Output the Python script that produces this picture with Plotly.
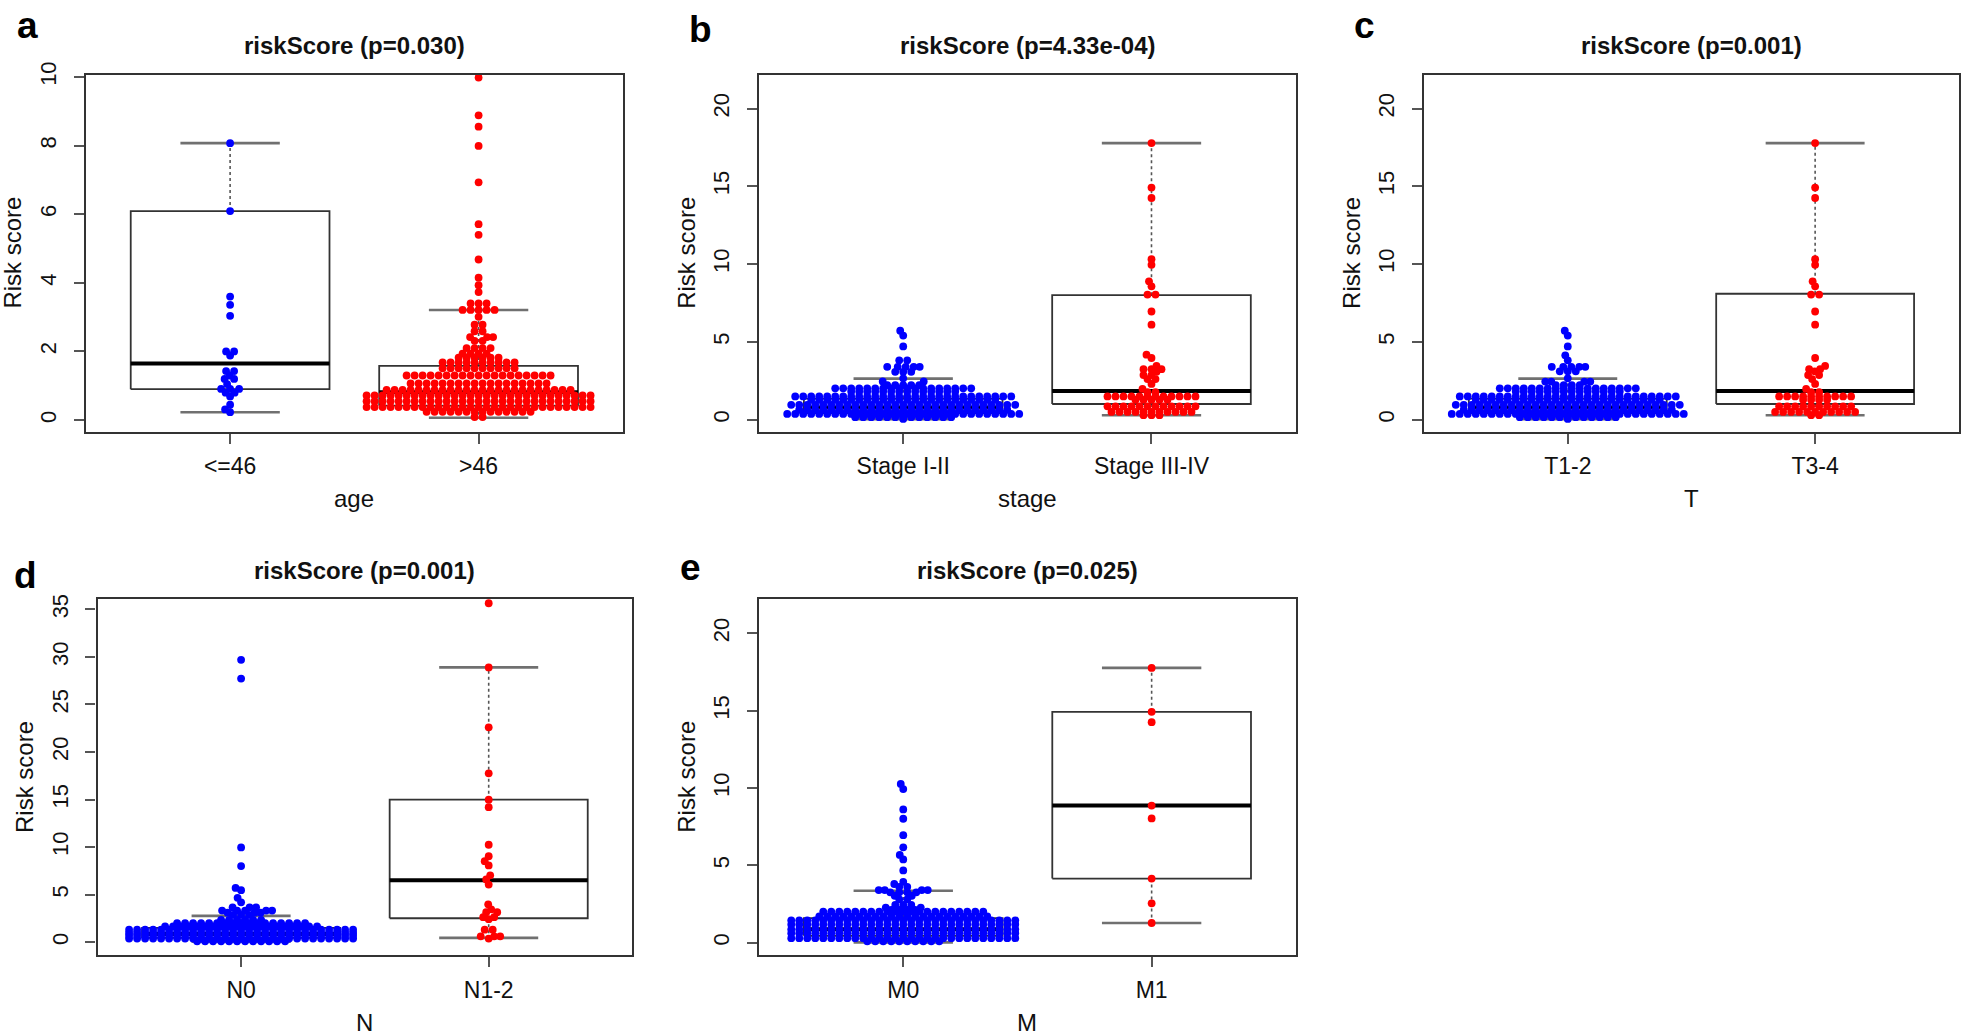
import plotly.graph_objects as go

W, H = 1962, 1035
FONT = "Liberation Sans, Arial, Helvetica, sans-serif"

# ---------------- panel a : age ----------------
a_title = "riskScore (p=0.030)"
a_xlabel = "age"
a_categories = ["<=46", ">46"]
a_yticks = [0, 2, 4, 6, 8, 10]
a_g1_values = [8.07, 6.09, 3.60, 3.36, 3.04, 2.00, 1.88, 1.43, 1.30, 1.20, 1.05, 0.91, 0.80, 0.69, 0.45, 0.31, 0.23]
a_g1_counts = [1, 1, 1, 1, 1, 2, 1, 2, 1, 2, 1, 3, 2, 1, 1, 1, 1]
a_g2_values = [9.98, 8.88, 8.55, 7.99, 6.93, 5.71, 5.40, 4.68, 4.15, 3.93, 3.73, 3.40, 3.21, 3.01, 2.78,
               2.59, 2.42, 2.31, 2.10, 1.94, 1.82, 1.68, 1.51, 1.30, 1.07, 0.88, 0.72, 0.55, 0.38, 0.24, 0.09]
a_g2_counts = [1, 1, 1, 1, 1, 1, 1, 1, 1, 1, 1, 3, 5, 1, 2,
               2, 3, 2, 4, 4, 6, 10, 10, 19, 18, 24, 29, 29, 29, 14, 2]
a_q1 = [0.90, 0.42]
a_median = [1.65, 0.81]
a_q3 = [6.09, 1.58]
a_lower = [0.23, 0.07]
a_upper = [8.07, 3.21]

# ---------------- panel b : stage ----------------
b_title = "riskScore (p=4.33e-04)"
b_xlabel = "stage"
b_categories = ["Stage I-II", "Stage III-IV"]
b_yticks = [0, 5, 10, 15, 20]
b_g1_values = [5.71, 5.40, 4.70, 3.81, 3.39, 3.07, 2.65, 2.45, 2.22, 2.01, 1.80, 1.49, 1.27, 0.95, 0.63, 0.36, 0.15, 0.04]
b_g1_counts = [1, 1, 1, 2, 5, 3, 1, 2, 5, 18, 14, 28, 24, 29, 27, 30, 13, 1]
b_g2_values = [17.78, 14.92, 14.25, 10.31, 9.95, 8.89, 8.57, 8.04, 6.95, 6.10, 4.17, 3.96, 3.45, 3.24, 3.07,
               2.86, 2.60, 2.29, 1.97, 1.76, 1.49, 1.27, 0.85, 0.49, 0.28]
b_g2_counts = [1, 1, 1, 1, 1, 1, 1, 2, 1, 1, 1, 1, 1, 3, 1,
               2, 2, 1, 1, 2, 12, 5, 12, 11, 3]
b_q1 = [0.42, 1.00]
b_median = [0.78, 1.84]
b_q3 = [1.35, 8.00]
b_lower = [0.03, 0.28]
b_upper = [2.63, 17.78]

# ---------------- panel c : T ----------------
c_title = "riskScore (p=0.001)"
c_xlabel = "T"
c_categories = ["T1-2", "T3-4"]
c_yticks = [0, 5, 10, 15, 20]
c_g1_values = [5.71, 5.40, 4.70, 4.13, 3.81, 3.39, 3.10, 2.65, 2.44, 2.22, 2.01, 1.80, 1.49, 1.27, 0.95, 0.63, 0.36, 0.15, 0.04]
c_g1_counts = [1, 1, 1, 1, 1, 5, 3, 1, 4, 4, 18, 14, 28, 24, 29, 27, 30, 13, 1]
c_g2_values = [17.78, 14.92, 14.25, 10.31, 9.95, 8.89, 8.57, 8.04, 6.95, 6.10, 3.96, 3.45, 3.24, 3.10,
               2.86, 2.60, 2.29, 1.97, 1.76, 1.49, 1.27, 0.85, 0.49, 0.28]
c_g2_counts = [1, 1, 1, 1, 1, 1, 1, 2, 1, 1, 1, 1, 2, 1,
               2, 1, 1, 1, 2, 10, 4, 10, 11, 2]
c_q1 = [0.42, 1.00]
c_median = [0.78, 1.84]
c_q3 = [1.35, 8.09]
c_lower = [0.03, 0.28]
c_upper = [2.63, 17.78]

# ---------------- panel d : N ----------------
d_title = "riskScore (p=0.001)"
d_xlabel = "N"
d_categories = ["N0", "N1-2"]
d_yticks = [0, 5, 10, 15, 20, 25, 30, 35]
d_g1_values = [29.70, 27.73, 9.97, 8.00, 5.71, 5.47, 4.67, 4.19, 3.67, 3.32, 3.10, 2.87, 2.35,
               2.01, 1.66, 1.32, 0.97, 0.69, 0.38, 0.10]
d_g1_counts = [1, 1, 1, 1, 1, 1, 1, 1, 3, 5, 3, 3, 6,
               17, 20, 29, 29, 29, 29, 12]
d_g2_values = [35.65, 28.90, 22.60, 17.76, 14.99, 14.20, 10.25, 9.04, 8.52, 8.07, 7.03, 6.60, 6.06,
               3.98, 3.46, 3.15, 2.63, 2.42, 1.32, 0.62, 0.38]
d_g2_counts = [1, 1, 1, 1, 1, 1, 1, 1, 1, 1, 1, 1, 1,
               1, 1, 2, 2, 1, 2, 3, 1]
d_q1 = [0.45, 2.52]
d_median = [0.85, 6.51]
d_q3 = [1.50, 14.99]
d_lower = [0.05, 0.45]
d_upper = [2.77, 28.90]

# ---------------- panel e : M ----------------
e_title = "riskScore (p=0.025)"
e_xlabel = "M"
e_categories = ["M0", "M1"]
e_yticks = [0, 5, 10, 15, 20]
e_g1_values = [10.27, 9.94, 8.62, 8.02, 6.96, 6.17, 5.68, 5.39, 4.68, 3.94, 3.80, 3.62, 3.41, 3.26,
               3.04, 2.81, 2.45, 2.28, 2.13, 2.02, 1.70, 1.45, 1.19, 0.87, 0.62, 0.30, 0.10]
e_g1_counts = [1, 1, 1, 1, 1, 1, 1, 1, 1, 1, 1, 2, 4, 4,
               2, 2, 3, 2, 4, 21, 22, 29, 29, 29, 29, 29, 10]
e_g2_values = [17.77, 14.93, 14.26, 8.87, 8.04, 4.15, 2.55, 1.28]
e_g2_counts = [1, 1, 1, 1, 1, 1, 1, 1]
e_q1 = [0.45, 4.15]
e_median = [0.88, 8.87]
e_q3 = [1.60, 14.93]
e_lower = [0.03, 1.28]
e_upper = [3.36, 17.77]

# ---------------- layout (pixel geometry) ----------------
PANELS = [
    dict(letter="a", letter_xy=(27, 13), frame=(86.0, 622.7, 62.3, 424.0), yrange=(-0.337, 10.07),
         title=a_title, xlabel=a_xlabel, cats=a_categories, yticks=a_yticks,
         g1=(a_g1_values, a_g1_counts), g2=(a_g2_values, a_g2_counts),
         box=(a_q1, a_median, a_q3, a_lower, a_upper)),
    dict(letter="b", letter_xy=(700, 17), frame=(759.2, 1295.5, 62.3, 424.0), yrange=(-0.78, 22.19),
         title=b_title, xlabel=b_xlabel, cats=b_categories, yticks=b_yticks,
         g1=(b_g1_values, b_g1_counts), g2=(b_g2_values, b_g2_counts),
         box=(b_q1, b_median, b_q3, b_lower, b_upper)),
    dict(letter="c", letter_xy=(1364, 13), frame=(1424.3, 1958.6, 62.3, 424.0), yrange=(-0.78, 22.19),
         title=c_title, xlabel=c_xlabel, cats=c_categories, yticks=c_yticks,
         g1=(c_g1_values, c_g1_counts), g2=(c_g2_values, c_g2_counts),
         box=(c_q1, c_median, c_q3, c_lower, c_upper)),
    dict(letter="d", letter_xy=(25, 570), frame=(97.5, 632.3, 593.5, 954.0), yrange=(-1.35, 36.09),
         title=d_title, xlabel=d_xlabel, cats=d_categories, yticks=d_yticks,
         g1=(d_g1_values, d_g1_counts), g2=(d_g2_values, d_g2_counts),
         box=(d_q1, d_median, d_q3, d_lower, d_upper)),
    dict(letter="e", letter_xy=(690, 562), frame=(759.2, 1295.7, 593.5, 954.0), yrange=(-0.79, 22.22),
         title=e_title, xlabel=e_xlabel, cats=e_categories, yticks=e_yticks,
         g1=(e_g1_values, e_g1_counts), g2=(e_g2_values, e_g2_counts),
         box=(e_q1, e_median, e_q3, e_lower, e_upper)),
]

XR = (0.42, 2.58)
BOXW = 0.8
DOT_D = 8.0      # centre spacing of dots (px)
DOT_SIZE = 7.8   # marker diameter (px)


def swarm(values, counts, kx, ky, d=DOT_D, tol=5.6, small_max=6):
    """Arrange points row by row, centred on the category (beeswarm 'center' style)."""
    pts = []
    small = []
    for v, n in sorted(zip(values, counts)):
        base = [(i - (n - 1) / 2.0) * d for i in range(n)]
        if n > small_max:
            pts += [(v, b) for b in base]
            continue
        yp = v * ky
        row = []
        for b in base:
            cands = sorted((b + s * 0.5 for s in range(-80, 81)), key=lambda c: (abs(c - b), c))
            chosen = b
            for c in cands:
                if all((c - sx) ** 2 + (yp - sy) ** 2 >= tol ** 2 for sx, sy in small + row):
                    chosen = c
                    break
            row.append((chosen, yp))
        small += row
        pts += [(v, c) for c, _ in row]
    return [p[1] / kx for p in pts], [p[0] for p in pts]


fig = go.Figure()
layout = dict(
    width=W, height=H, margin=dict(l=0, r=0, t=0, b=0),
    paper_bgcolor="white", plot_bgcolor="white", showlegend=False,
    font=dict(family=FONT, color="#1a1a1a"),
)
annotations = []

for k, P in enumerate(PANELS):
    idx = "" if k == 0 else str(k + 1)
    xa, ya = "x" + idx, "y" + idx
    L, R, T, B = P["frame"]
    y0, y1 = P["yrange"]
    kx = (R - L) / (XR[1] - XR[0])
    ky = (B - T) / (y1 - y0)

    layout["xaxis" + idx] = dict(
        domain=[L / W, R / W], range=list(XR), anchor=ya,
        tickmode="array", tickvals=[1, 2], ticktext=P["cats"],
        showline=True, mirror=True, linecolor="#333", linewidth=2.2,
        ticks="outside", ticklen=10, tickwidth=1.5, tickcolor="#555",
        showgrid=False, zeroline=False, fixedrange=True,
        tickfont=dict(size=23, family=FONT, color="#111"), ticklabelstandoff=3,
    )
    layout["yaxis" + idx] = dict(
        domain=[1 - B / H, 1 - T / H], range=[y0, y1], anchor=xa,
        tickmode="array", tickvals=P["yticks"], tickangle=-90,
        showline=True, mirror=True, linecolor="#333", linewidth=2.2,
        ticks="outside", ticklen=10, tickwidth=1.5, tickcolor="#555",
        showgrid=False, zeroline=False, fixedrange=True,
        tickfont=dict(size=22, family=FONT, color="#111"), ticklabelstandoff=9,
    )

    q1s, meds, q3s, los, his = P["box"]
    for gi in range(2):
        p = gi + 1
        hw, cw = BOXW / 2, BOXW / 4
        # dashed whiskers
        for a_, b_ in ((q3s[gi], his[gi]), (q1s[gi], los[gi])):
            fig.add_trace(go.Scatter(x=[p, p], y=[a_, b_], mode="lines", xaxis=xa, yaxis=ya,
                                     line=dict(color="#555", width=1.6, dash="3px,3px"), hoverinfo="skip"))
        # staples
        for s_ in (his[gi], los[gi]):
            fig.add_trace(go.Scatter(x=[p - cw, p + cw], y=[s_, s_], mode="lines", xaxis=xa, yaxis=ya,
                                     line=dict(color="#707070", width=2.6), hoverinfo="skip"))
        # box
        fig.add_trace(go.Scatter(x=[p - hw, p + hw, p + hw, p - hw, p - hw],
                                 y=[q1s[gi], q1s[gi], q3s[gi], q3s[gi], q1s[gi]],
                                 mode="lines", xaxis=xa, yaxis=ya,
                                 line=dict(color="#333", width=1.8), hoverinfo="skip"))
        # median
        fig.add_trace(go.Scatter(x=[p - hw, p + hw], y=[meds[gi], meds[gi]], mode="lines",
                                 xaxis=xa, yaxis=ya, line=dict(color="#000", width=4), hoverinfo="skip"))

    for gi, (key, col) in enumerate((("g1", "#0000ff"), ("g2", "#ff0000"))):
        vals, cnts = P[key]
        dx, ys = swarm(vals, cnts, kx, ky)
        fig.add_trace(go.Scatter(x=[gi + 1 + v for v in dx], y=ys, mode="markers", xaxis=xa, yaxis=ya,
                                 marker=dict(color=col, size=DOT_SIZE, line=dict(width=0)),
                                 hoverinfo="y"))

    cx = (L + R) / 2
    # title
    annotations.append(dict(text="<b>" + P["title"] + "</b>", x=cx / W, y=1 - (T - 29) / H,
                            xref="paper", yref="paper", showarrow=False, xanchor="center", yanchor="middle",
                            font=dict(size=24, family=FONT, color="#111")))
    # x label
    annotations.append(dict(text=P["xlabel"], x=cx / W, y=1 - (B + 68) / H,
                            xref="paper", yref="paper", showarrow=False, xanchor="center", yanchor="middle",
                            font=dict(size=24, family=FONT, color="#111")))
    # y label
    annotations.append(dict(text="Risk score", x=(L - 73.5) / W, y=1 - ((T + B) / 2) / H, textangle=-90,
                            xref="paper", yref="paper", showarrow=False, xanchor="center", yanchor="middle",
                            font=dict(size=24, family=FONT, color="#111")))
    # panel letter
    lx, ly = P["letter_xy"]
    annotations.append(dict(text="<b>" + P["letter"] + "</b>", x=lx / W, y=1 - ly / H,
                            xref="paper", yref="paper", showarrow=False, xanchor="center", yanchor="middle",
                            font=dict(size=37, family=FONT, color="#000")))

layout["annotations"] = annotations
fig.update_layout(**layout)
fig.write_html("out.html", config={"displayModeBar": False},
               post_script="document.body.style.margin='0px';document.body.style.overflow='hidden';")
